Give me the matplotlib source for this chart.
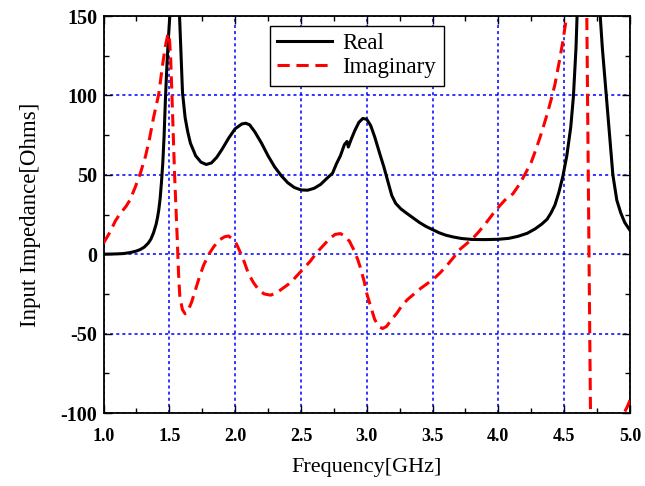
import matplotlib
matplotlib.use("Agg")
import matplotlib.pyplot as plt
from matplotlib.ticker import MultipleLocator, FormatStrFormatter

plt.rcParams['font.family'] = ['Liberation Serif', 'DejaVu Serif']
plt.rcParams['axes.unicode_minus'] = False

# real part of input impedance
f_real = [1.00, 1.05, 1.10, 1.15, 1.20, 1.25, 1.28, 1.31, 1.34, 1.36, 1.38, 1.40,
          1.41, 1.42, 1.43, 1.44, 1.45, 1.46, 1.47, 1.48, 1.49, 1.505, 1.54, 1.57,
          1.58, 1.60, 1.62, 1.64, 1.66, 1.70, 1.74,
          1.78, 1.82, 1.86, 1.90, 1.95, 2.00, 2.05, 2.08, 2.11, 2.15, 2.20, 2.25,
          2.30, 2.35, 2.40, 2.45, 2.50, 2.55, 2.60, 2.65, 2.70, 2.74, 2.77, 2.80,
          2.83, 2.85, 2.86, 2.88, 2.91, 2.94, 2.97, 3.00, 3.03, 3.06, 3.10, 3.13,
          3.16, 3.19, 3.22, 3.26, 3.30, 3.35, 3.40, 3.45, 3.50, 3.55, 3.60, 3.66,
          3.72, 3.80, 3.90, 4.00, 4.08, 4.15, 4.22, 4.28, 4.33, 4.37, 4.40, 4.43,
          4.46, 4.49, 4.52, 4.55, 4.57, 4.59, 4.61, 4.65, 4.70, 4.75, 4.77, 4.79,
          4.82, 4.85, 4.87, 4.90, 4.93, 4.96, 5.00]
z_real = [0, 0.1, 0.2, 0.4, 1.0, 2.0, 3.0, 4.5, 7, 9.5, 13.5, 19,
          23, 28, 35, 45, 57, 74, 97, 116, 132, 152, 250, 165,
          145, 102, 86, 77, 70, 62, 58,
          56.5, 57.5, 61, 66, 73, 79, 82, 82.5, 81.5, 77, 70, 62,
          55, 49.5, 45, 42, 40.5, 40.3, 41.5, 44, 48, 51, 57, 62,
          69, 71, 67.5, 72, 78, 83, 85.5, 85, 81, 74, 63, 55,
          46, 37, 32, 28.5, 26, 23, 20, 17.5, 15.5, 13.5, 12, 10.8,
          9.9, 9.3, 9.2, 9.4, 10, 11.3, 13.2, 16, 19, 22, 26, 31,
          39, 49, 62, 80, 99, 130, 180, 300, 400, 200, 155, 130,
          100, 70, 50, 34, 26, 20, 15]

# imaginary part of input impedance
f_imag = [1.00, 1.05, 1.09, 1.13, 1.17, 1.20, 1.24, 1.28, 1.32, 1.35, 1.38, 1.42,
          1.45, 1.47, 1.49, 1.50, 1.51, 1.52, 1.53, 1.54, 1.55, 1.56, 1.57, 1.58,
          1.60, 1.62, 1.64, 1.67, 1.70, 1.73, 1.76, 1.80, 1.84, 1.88, 1.92, 1.95,
          1.98, 2.01, 2.04, 2.07, 2.10, 2.14, 2.18, 2.22, 2.27, 2.32, 2.37, 2.42,
          2.47, 2.52, 2.57, 2.62, 2.67, 2.72, 2.76, 2.80, 2.84, 2.87, 2.90, 2.93,
          2.95, 2.98, 3.00, 3.03, 3.06, 3.09, 3.12, 3.15, 3.19, 3.23, 3.27, 3.31,
          3.36, 3.41, 3.46, 3.51, 3.56, 3.61, 3.66, 3.70, 3.75, 3.80, 3.85, 3.90,
          3.96, 4.01, 4.06, 4.11, 4.16, 4.20, 4.25, 4.29, 4.33, 4.37, 4.40, 4.43,
          4.46, 4.49, 4.51, 4.53, 4.58, 4.64, 4.66, 4.672, 4.686, 4.70, 4.71, 4.80,
          4.90, 4.94, 4.955, 4.98, 5.00]
z_imag = [7, 14, 21, 26, 30, 34, 42, 51, 62, 73, 86, 101,
          120, 131, 139, 137, 124, 100, 75, 50, 30, 10, -12, -27,
          -35, -37.5, -36, -30, -22, -14, -7, 0, 5, 9, 11, 11.5,
          9.5, 6.5, 1, -5, -12, -18, -22.5, -25, -25.8, -24, -21, -18,
          -13.5, -9, -4.5, 1, 5.5, 10, 12.5, 13, 11, 8, 3, -3,
          -8, -17, -24.7, -33, -41, -45.5, -46.8, -45.5, -41, -37, -32, -28.5,
          -25, -21.5, -18.5, -15.5, -11.5, -7, -2, 2.5, 6, 9.5, 14, 19,
          25.5, 30.5, 35, 38, 44, 50, 58, 67, 77, 88, 97, 107,
          120, 134, 145, 160, 220, 250, 200, 150, 25, -100, -200, -400,
          -250, -130, -100, -96, -92]

fig = plt.figure(figsize=(6.45, 4.86), dpi=100)
ax = fig.add_axes([0.1605, 0.1502, 0.8162, 0.8168])

ax.plot(f_real, z_real, color='black', lw=2.2, label='Real', zorder=3)
ax.plot(f_imag, z_imag, color='red', lw=2.2, linestyle=(0, (4, 2.2)), label='Imaginary', zorder=3)

ax.set_xlim(1.0, 5.0)
ax.set_ylim(-100, 150)
ax.xaxis.set_major_locator(MultipleLocator(0.5))
ax.xaxis.set_minor_locator(MultipleLocator(0.25))
ax.yaxis.set_major_locator(MultipleLocator(50))
ax.yaxis.set_minor_locator(MultipleLocator(25))
ax.xaxis.set_major_formatter(FormatStrFormatter('%.1f'))

ax.grid(True, which='major', color='#0000ff', linestyle=(0, (2, 2)), lw=1.1)
ax.tick_params(which='both', direction='in', top=True, right=True, width=1.0)
ax.tick_params(which='major', length=6)
ax.tick_params(which='minor', length=3.5)
ax.tick_params(axis='x', which='major', labelsize=13, pad=11)
ax.tick_params(axis='y', which='major', labelsize=14.5, pad=4.5)
for lbl in ax.get_xticklabels() + ax.get_yticklabels():
    lbl.set_fontweight('bold')
for sp in ax.spines.values():
    sp.set_linewidth(1.3)

ax.set_xlabel('Frequency[GHz]', fontsize=16, labelpad=9)
ax.set_ylabel('Input Impedance[Ohms]', fontsize=16.5, labelpad=14)

leg = ax.legend(loc='upper left', bbox_to_anchor=(0.316, 0.976), borderaxespad=0,
                fancybox=False, edgecolor='black', fontsize=16.5, handlelength=2.4,
                handletextpad=0.45, labelspacing=0.15, borderpad=0.32, framealpha=1)
leg.get_frame().set_linewidth(1.0)

fig.savefig('out.png', dpi=100)
